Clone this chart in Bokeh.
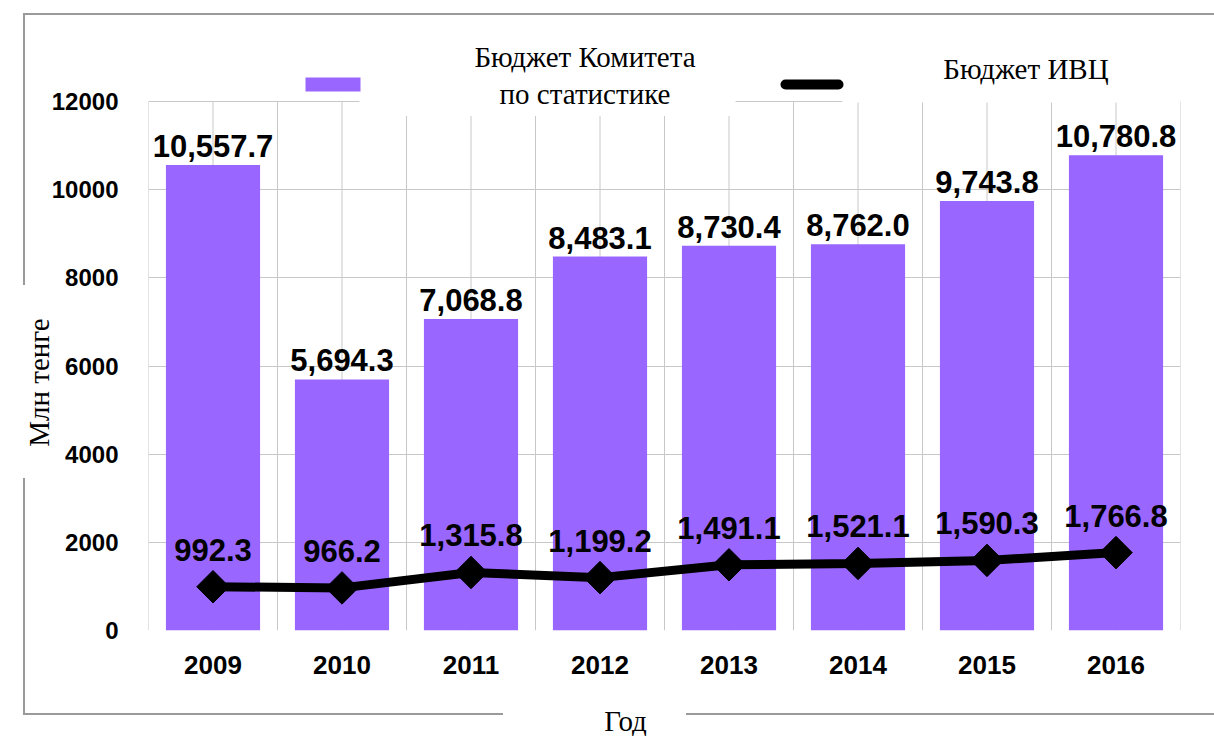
from bokeh.plotting import figure
from bokeh.models import Range1d, FixedTicker, Label, BoxAnnotation, ColumnDataSource
from bokeh.core.properties import value
from bokeh.embed import file_html
from bokeh.resources import INLINE
import math

years = ["2009", "2010", "2011", "2012", "2013", "2014", "2015", "2016"]
committee = [10557.7, 5694.3, 7068.8, 8483.1, 8730.4, 8762.0, 9743.8, 10780.8]
ivc = [992.3, 966.2, 1315.8, 1199.2, 1491.1, 1521.1, 1590.3, 1766.8]
y_ticks = [0, 2000, 4000, 6000, 8000, 10000, 12000]

series_committee = "Бюджет Комитета\nпо статистике"
series_ivc = "Бюджет ИВЦ"
x_label = "Год"
y_label = "Млн тенге"

n = len(years)
xs = [i + 0.5 for i in range(n)]
src = ColumnDataSource(dict(
    x=xs, committee=committee, ivc=ivc,
    ctext=[f"{v:,.1f}" for v in committee],
    itext=[f"{v:,.1f}" for v in ivc],
))
grid_x = [i * 0.5 for i in range(2 * n + 1)]
ymax = y_ticks[-1]

BAR = "#9966ff"
GRID = "#c8c8c8"
FRAME = "#9a9a9a"

# layout geometry (pixels): plotting area 148..1180 x 101..630; frame extends up to y=16
TOP, VAL_TOP, BOTTOM = 16, 101, 630
y_end = ymax * (BOTTOM - TOP) / (BOTTOM - VAL_TOP)

p = figure(width=1214, height=736, output_backend="svg", toolbar_location=None,
           x_range=Range1d(0, n), y_range=Range1d(0, y_end),
           min_border_left=148, min_border_right=34, min_border_top=TOP, min_border_bottom=106)
p.title.visible = False
p.outline_line_color = None
p.background_fill_color = None
p.border_fill_color = None

# outer decorative frame (behind the transparent canvas)
seg = "linear-gradient({c},{c}) {x}px {y}px / {w}px {h}px no-repeat"
p.styles = {"background": ", ".join([
    seg.format(c=FRAME, x=23, y=13, w=2, h=272),
    seg.format(c=FRAME, x=23, y=478, w=2, h=237),
    seg.format(c=FRAME, x=23, y=13, w=1191, h=2),
    seg.format(c=FRAME, x=23, y=713, w=480, h=2),
    seg.format(c=FRAME, x=686, y=713, w=528, h=2),
]) + ", white"}

# axes
p.yaxis.ticker = FixedTicker(ticks=y_ticks)
p.yaxis.axis_line_color = None
p.yaxis.major_tick_line_color = None
p.yaxis.minor_tick_line_color = None
p.yaxis.major_label_text_font = "Liberation Sans"
p.yaxis.major_label_text_font_style = "bold"
p.yaxis.major_label_text_font_size = "24px"
p.yaxis.major_label_text_color = "black"
p.yaxis.major_label_standoff = 24

p.xaxis.ticker = FixedTicker(ticks=xs)
p.xaxis.major_label_overrides = {x: y for x, y in zip(xs, years)}
p.xaxis.axis_line_color = None
p.xaxis.major_tick_line_color = None
p.xaxis.minor_tick_line_color = None
p.xaxis.major_label_text_font = "Liberation Sans"
p.xaxis.major_label_text_font_style = "bold"
p.xaxis.major_label_text_font_size = "26px"
p.xaxis.major_label_text_color = "black"
p.xaxis.major_label_standoff = 19

p.ygrid.ticker = FixedTicker(ticks=y_ticks)
p.ygrid.grid_line_color = GRID
p.xgrid.visible = False
# vertical grid lines: category centres and boundaries, only over the value range
p.segment(x0=grid_x, y0=[0] * len(grid_x), x1=grid_x, y1=[ymax] * len(grid_x),
          line_color=GRID, line_width=1)

bars = p.vbar(x="x", top="committee", width=0.73, source=src, fill_color=BAR, line_color=None)
line = p.line(x="x", y="ivc", source=src, line_color="black", line_width=9)
marks = p.scatter(x="x", y="ivc", source=src, marker="square", angle=math.pi / 4,
                  size=23, fill_color="black", line_color="black")

p.text(x="x", y="committee", text="ctext", source=src, text_align="center",
       text_baseline="alphabetic", y_offset=-19, text_font=value("Liberation Sans"),
       text_font_style="bold", text_font_size="31px", text_color="black")
p.text(x="x", y="ivc", text="itext", source=src, text_align="center",
       text_baseline="alphabetic", y_offset=-37, text_font=value("Liberation Sans"),
       text_font_style="bold", text_font_size="31px", text_color="black")

# legend (swatches + labels with white boxes, as in the original)
cu = dict(left_units="canvas", right_units="canvas", top_units="canvas", bottom_units="canvas")
p.add_layout(Label(x=547, y=77, x_units="canvas", y_units="canvas", text=series_committee,
                   text_align="center", text_baseline="middle", text_line_height=1.15,
                   text_font="Liberation Serif", text_font_size="29px", text_color="black",
                   background_fill_color="white",
                   padding=dict(left=115, right=40, top=2, bottom=6)))
p.add_layout(Label(x=1011, y=75, x_units="canvas", y_units="canvas", text=series_ivc,
                   text_align="center", text_baseline="middle",
                   text_font="Liberation Serif", text_font_size="29px", text_color="black",
                   background_fill_color="white",
                   padding=dict(left=101, right=72, top=4, bottom=18)))
p.add_layout(BoxAnnotation(left=305, right=360, top=77, bottom=91, fill_color=BAR,
                           fill_alpha=1, line_color=None, **cu))
p.add_layout(BoxAnnotation(left=780, right=843, top=79, bottom=89, fill_color="black",
                           fill_alpha=1, line_color=None, border_radius=5, **cu))

# axis titles
p.add_layout(Label(x=38, y=382, x_units="canvas", y_units="canvas", text=y_label,
                   angle=math.pi / 2, text_align="center", text_baseline="middle",
                   text_font="Liberation Serif", text_font_size="29px", text_color="black"), "left")
p.add_layout(Label(x=625, y=720, x_units="canvas", y_units="canvas", text=x_label,
                   text_align="center", text_baseline="middle",
                   text_font="Liberation Serif", text_font_size="29px", text_color="black"), "below")

open("out.html", "w").write(file_html(p, INLINE))
